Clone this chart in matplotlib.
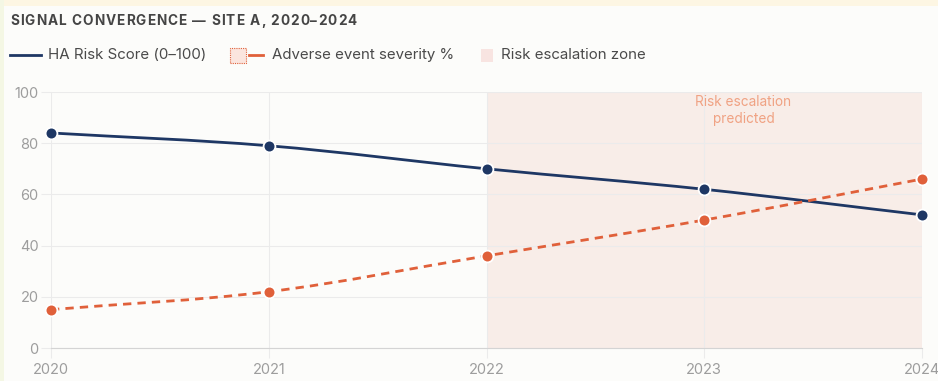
import numpy as np
import matplotlib
matplotlib.use("Agg")
import matplotlib.pyplot as plt
from matplotlib.path import Path
from matplotlib.patches import PathPatch, Rectangle
from matplotlib.lines import Line2D

years = [2020, 2021, 2022, 2023, 2024]
ha_risk = [84, 79, 70, 62, 52]
ae_severity = [15, 22, 36, 50, 66]
zone_start, zone_end = 2022, 2024
y_ticks = [0, 20, 40, 60, 80, 100]

title = "SIGNAL CONVERGENCE — SITE A, 2020–2024"
ha_label = "HA Risk Score (0–100)"
ae_label = "Adverse event severity %"
zone_label = "Risk escalation zone"
note = "Risk escalation\npredicted"

NAVY = "#1e3764"
ORANGE = "#e0603a"
ZONE = "#f8ede8"
GRID = "#ebebeb"
TICKC = "#9d9d9d"
FONT = ["Inter", "DejaVu Sans"]

W, H = 938, 381
fig = plt.figure(figsize=(W / 100, H / 100), dpi=100, facecolor="#fcfcfa")

def fx(px):
    return px / W

def fy(py):
    return 1 - py / H

# page background strips
fig.add_artist(Rectangle((0, fy(6)), 1, 6 / H, transform=fig.transFigure,
                         color="#fdf6e3", lw=0, zorder=0))
fig.add_artist(Rectangle((0, 0), 4 / W, 1, transform=fig.transFigure,
                         color="#f4f7e4", lw=0, zorder=0))

ax = fig.add_axes([fx(51), fy(348), fx(922) - fx(51), (348 - 92) / H])
ax.set_facecolor("#fcfcfa")
ax.set_xlim(years[0], years[-1])
ax.set_ylim(0, 100)

ax.axvspan(zone_start, zone_end, color=ZONE, lw=0, zorder=0)

ax.set_xticks(years)
ax.set_yticks(y_ticks)
ax.grid(True, color=GRID, lw=0.8, zorder=0.5)
for s in ["top", "right", "left"]:
    ax.spines[s].set_visible(False)
ax.spines["bottom"].set_color("#d4d4d4")
ax.spines["bottom"].set_linewidth(0.8)
ax.tick_params(axis="both", colors=GRID, labelcolor=TICKC, length=7, width=0.8,
               labelsize=10.5)
ax.tick_params(axis="x", pad=4)
ax.tick_params(axis="y", pad=2)
for lab in ax.get_xticklabels() + ax.get_yticklabels():
    lab.set_fontfamily(FONT)

fig.canvas.draw()
renderer = fig.canvas.get_renderer()

def spline_path(xs, ys, tension=0.35):
    pts = ax.transData.transform(np.column_stack([xs, ys]))
    n = len(pts)
    cps = []
    for i in range(n):
        cur = pts[i]
        prev = pts[i - 1] if i > 0 else cur
        nxt = pts[i + 1] if i < n - 1 else cur
        d01 = np.hypot(*(cur - prev))
        d12 = np.hypot(*(nxt - cur))
        tot = d01 + d12
        s01 = d01 / tot if tot else 0
        s12 = d12 / tot if tot else 0
        fa = tension * s01
        fb = tension * s12
        cps.append((cur - fa * (nxt - prev), cur + fb * (nxt - prev)))
    verts = [pts[0]]
    codes = [Path.MOVETO]
    for i in range(n - 1):
        verts += [cps[i][1], cps[i + 1][0], pts[i + 1]]
        codes += [Path.CURVE4] * 3
    inv = ax.transData.inverted()
    return Path(inv.transform(np.array(verts)), codes)

ax.add_patch(PathPatch(spline_path(years, ha_risk), fill=False, edgecolor=NAVY,
                       lw=2.0, zorder=3, capstyle="round"))
ax.add_patch(PathPatch(spline_path(years, ae_severity), fill=False, edgecolor=ORANGE,
                       lw=2.0, ls=(0, (3, 2.2)), zorder=3))
ax.plot(years, ha_risk, ls="none", marker="o", ms=8.5, mfc=NAVY, mec="white",
        mew=1.3, zorder=4, clip_on=False)
ax.plot(years, ae_severity, ls="none", marker="o", ms=8.5, mfc=ORANGE, mec="white",
        mew=1.3, zorder=4, clip_on=False)

ax.text(2023.18, 98.8, note, ha="center", va="top", color="#f0a283",
        fontsize=9.8, linespacing=1.3, family=FONT, zorder=5)

# title with letter spacing
x = 10.0
for ch in title:
    t = fig.text(fx(x), fy(21), ch, ha="left", va="center", fontsize=9.8,
                 fontweight="bold", color="#454545", family=FONT)
    w = t.get_window_extent(renderer).width if ch != " " else 3.2
    x += w + 1.05

# legend
ly = fy(55)
TXT = "#4a4a4a"
fig.add_artist(Line2D([fx(10), fx(41)], [ly, ly], color=NAVY, lw=2,
                      transform=fig.transFigure))
fig.text(fx(48), ly, ha_label, ha="left", va="center", fontsize=10.8,
         color=TXT, family=FONT)
fig.add_artist(Rectangle((fx(230), fy(63)), 16 / W, 15 / H, transform=fig.transFigure,
                         facecolor="#fbe5de", edgecolor=ORANGE, lw=0.8, ls=(0, (1, 1))))
fig.add_artist(Line2D([fx(249), fx(263)], [ly, ly], color=ORANGE, lw=2,
                      transform=fig.transFigure))
fig.text(fx(272), ly, ae_label, ha="left", va="center", fontsize=10.8,
         color=TXT, family=FONT)
fig.add_artist(Rectangle((fx(481), fy(62)), 12 / W, 13 / H, transform=fig.transFigure,
                         facecolor="#f8e4e1", edgecolor="none"))
fig.text(fx(501), ly, zone_label, ha="left", va="center", fontsize=10.8,
         color=TXT, family=FONT)

fig.savefig("out.png", dpi=100, facecolor=fig.get_facecolor())
